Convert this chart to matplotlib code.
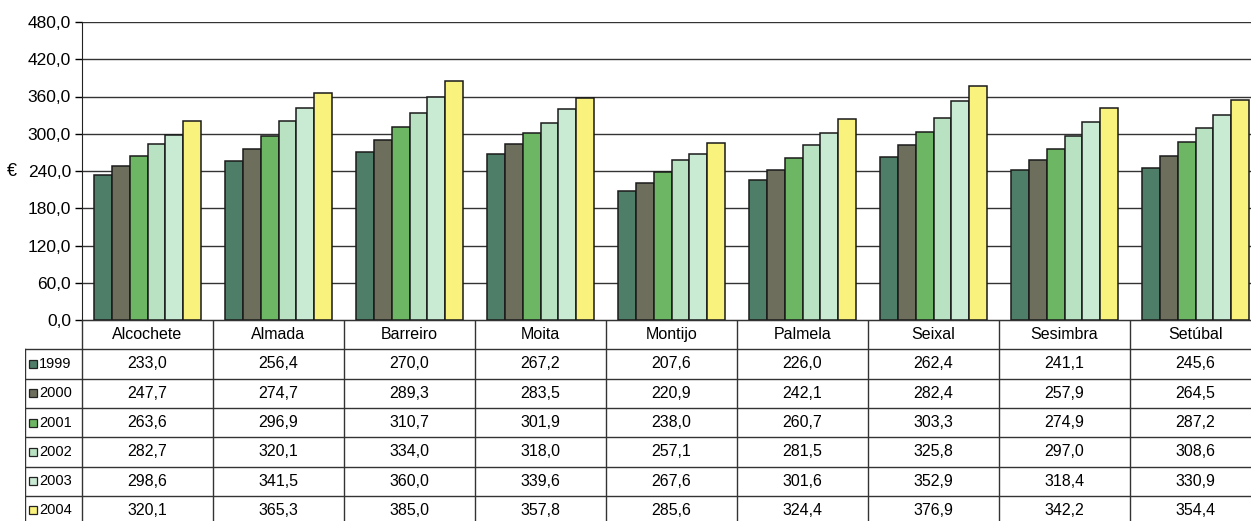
import matplotlib.pyplot as plt
from matplotlib.ticker import FuncFormatter
import numpy as np

plt.rcParams['font.family'] = ['Liberation Sans', 'DejaVu Sans']

municipios = ['Alcochete', 'Almada', 'Barreiro', 'Moita', 'Montijo', 'Palmela',
              'Seixal', 'Sesimbra', 'Setúbal']
anos = ['1999', '2000', '2001', '2002', '2003', '2004']
v1999 = [233.0, 256.4, 270.0, 267.2, 207.6, 226.0, 262.4, 241.1, 245.6]
v2000 = [247.7, 274.7, 289.3, 283.5, 220.9, 242.1, 282.4, 257.9, 264.5]
v2001 = [263.6, 296.9, 310.7, 301.9, 238.0, 260.7, 303.3, 274.9, 287.2]
v2002 = [282.7, 320.1, 334.0, 318.0, 257.1, 281.5, 325.8, 297.0, 308.6]
v2003 = [298.6, 341.5, 360.0, 339.6, 267.6, 301.6, 352.9, 318.4, 330.9]
v2004 = [320.1, 365.3, 385.0, 357.8, 285.6, 324.4, 376.9, 342.2, 354.4]
series = [v1999, v2000, v2001, v2002, v2003, v2004]
cores = ['#4e7d68', '#6e6e5c', '#6db663', '#b9e2c2', '#c9ead3', '#f9f27c']

W, H = 1251, 521
fig = plt.figure(figsize=(W / 100, H / 100), dpi=100)
fig.patch.set_facecolor('white')

# pixel geometry of the original
x0, colw = 82, 131
y_top, y_zero = 22, 320
ax = fig.add_axes([x0 / W, (H - y_zero) / H, 9 * colw / W, (y_zero - y_top) / H])

x = np.arange(len(municipios))
bw = 0.135
for i, (vals, c) in enumerate(zip(series, cores)):
    ax.bar(x + (i - 2.5) * bw, vals, width=bw, color=c, edgecolor='#1a1a1a',
           linewidth=1.1, zorder=3, label=anos[i])

ax.set_xlim(-0.5, 8.5)
ax.set_ylim(0, 480)
ax.set_yticks(np.arange(0, 481, 60))
ax.yaxis.set_major_formatter(FuncFormatter(lambda v, p: f'{v:.1f}'.replace('.', ',')))
ax.grid(axis='y', color='#333333', linewidth=1.0, zorder=0)
ax.set_xticks([])
ax.tick_params(axis='y', length=5, width=1, labelsize=12.5, pad=3)
for s in ['top', 'right']:
    ax.spines[s].set_visible(False)
ax.spines['left'].set_color('#222222')
ax.spines['bottom'].set_color('#222222')
ax.set_ylabel('€', rotation=0, fontsize=13, va='center', ha='center')
ax.yaxis.set_label_coords((12 - x0) / (9 * colw), 0.5)

# data table below the chart
lab0 = 25
rowh = 29.3
nrows = 7
tab = fig.add_axes([lab0 / W, (H - y_zero - nrows * rowh) / H,
                    (9 * colw + x0 - lab0) / W, nrows * rowh / H])
labw = (x0 - lab0) / colw
tab.set_xlim(-0.5 - labw, 8.5)
tab.set_ylim(nrows, 0)
tab.axis('off')
lc = '#333333'
fs = 11.5
# header row
for j, m in enumerate(municipios):
    tab.text(j, 0.5, m, ha='center', va='center', fontsize=fs)
for j in range(10):
    tab.plot([j - 0.5, j - 0.5], [0, nrows], color=lc, lw=1)
tab.plot([-0.5, 8.5], [0, 0], color=lc, lw=1)
tab.plot([-0.5 - labw, -0.5 - labw], [1, nrows], color=lc, lw=1)
for r in range(1, nrows + 1):
    tab.plot([-0.5 - labw, 8.5], [r, r], color=lc, lw=1)
for i, (vals, c) in enumerate(zip(series, cores)):
    r = i + 1.5
    tab.plot(-0.5 - labw + 0.06, r, marker='s', ms=6, color=c,
             markeredgecolor='#222222', mew=0.9)
    tab.text(-0.5 - labw + 0.105, r, anos[i], ha='left', va='center', fontsize=10.5)
    for j, v in enumerate(vals):
        tab.text(j, r, f'{v:.1f}'.replace('.', ','), ha='center', va='center',
                 fontsize=fs)

fig.savefig('out.png', dpi=100)
